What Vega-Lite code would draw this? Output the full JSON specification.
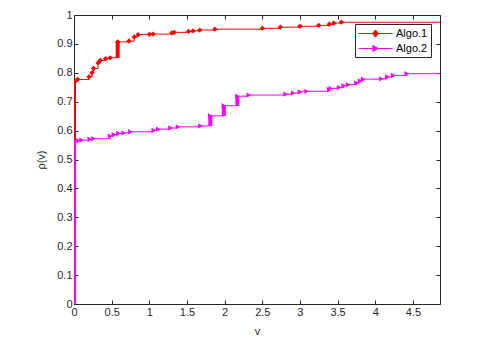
{
  "$schema": "https://vega.github.io/schema/vega-lite/v6.json",
  "width": 366,
  "height": 289,
  "autosize": {"type": "none"},
  "padding": {"left": 74, "top": 15, "right": 51, "bottom": 37},
  "background": "white",
  "config": {
    "view": {"stroke": "#262626", "strokeWidth": 1},
    "font": "Liberation Sans",
    "axis": {
      "grid": false,
      "domainColor": "#262626",
      "tickColor": "#262626",
      "labelColor": "#262626",
      "titleColor": "#262626",
      "labelFont": "Liberation Sans",
      "titleFont": "Liberation Sans",
      "labelFontSize": 11,
      "titleFontSize": 11,
      "titleFontWeight": "normal",
      "tickSize": -4,
      "labelPadding": 6,
      "labelOverlap": false,
      "labelFlush": false
    },
    "axisY": {"labelOverlap": false, "tickCount": 10},
    "legend": {
      "labelFont": "Liberation Sans",
      "labelFontSize": 11,
      "labelColor": "#000000"
    }
  },
  "datasets": {
    "profile": [
      {"algo": "Algo.1", "v": 0, "rho": 0.768},
      {"algo": "Algo.1", "v": 0.02, "rho": 0.772},
      {"algo": "Algo.1", "v": 0.05, "rho": 0.777},
      {"algo": "Algo.1", "v": 0.2, "rho": 0.786},
      {"algo": "Algo.1", "v": 0.24, "rho": 0.8},
      {"algo": "Algo.1", "v": 0.26, "rho": 0.815},
      {"algo": "Algo.1", "v": 0.32, "rho": 0.834},
      {"algo": "Algo.1", "v": 0.35, "rho": 0.843},
      {"algo": "Algo.1", "v": 0.42, "rho": 0.849},
      {"algo": "Algo.1", "v": 0.48, "rho": 0.852},
      {"algo": "Algo.1", "v": 0.58, "rho": 0.907},
      {"algo": "Algo.1", "v": 0.73, "rho": 0.91},
      {"algo": "Algo.1", "v": 0.8, "rho": 0.924},
      {"algo": "Algo.1", "v": 0.85, "rho": 0.932},
      {"algo": "Algo.1", "v": 1.0, "rho": 0.933},
      {"algo": "Algo.1", "v": 1.05, "rho": 0.934},
      {"algo": "Algo.1", "v": 1.3, "rho": 0.938},
      {"algo": "Algo.1", "v": 1.33, "rho": 0.94},
      {"algo": "Algo.1", "v": 1.52, "rho": 0.943},
      {"algo": "Algo.1", "v": 1.58, "rho": 0.945},
      {"algo": "Algo.1", "v": 1.67, "rho": 0.948},
      {"algo": "Algo.1", "v": 1.87, "rho": 0.951},
      {"algo": "Algo.1", "v": 2.5, "rho": 0.954},
      {"algo": "Algo.1", "v": 2.74, "rho": 0.958},
      {"algo": "Algo.1", "v": 3.0, "rho": 0.961},
      {"algo": "Algo.1", "v": 3.25, "rho": 0.964},
      {"algo": "Algo.1", "v": 3.39, "rho": 0.968},
      {"algo": "Algo.1", "v": 3.45, "rho": 0.972},
      {"algo": "Algo.1", "v": 3.55, "rho": 0.975},
      {"algo": "Algo.1", "v": 5.0, "rho": 0.975},
      {"algo": "Algo.2", "v": 0, "rho": 0.565},
      {"algo": "Algo.2", "v": 0.06, "rho": 0.565},
      {"algo": "Algo.2", "v": 0.1, "rho": 0.567},
      {"algo": "Algo.2", "v": 0.21, "rho": 0.57},
      {"algo": "Algo.2", "v": 0.26, "rho": 0.572},
      {"algo": "Algo.2", "v": 0.48, "rho": 0.581},
      {"algo": "Algo.2", "v": 0.53, "rho": 0.586},
      {"algo": "Algo.2", "v": 0.59, "rho": 0.59},
      {"algo": "Algo.2", "v": 0.66, "rho": 0.592},
      {"algo": "Algo.2", "v": 0.75, "rho": 0.596},
      {"algo": "Algo.2", "v": 1.06, "rho": 0.601},
      {"algo": "Algo.2", "v": 1.12, "rho": 0.605},
      {"algo": "Algo.2", "v": 1.28, "rho": 0.609},
      {"algo": "Algo.2", "v": 1.38, "rho": 0.613},
      {"algo": "Algo.2", "v": 1.68, "rho": 0.616},
      {"algo": "Algo.2", "v": 1.81, "rho": 0.651},
      {"algo": "Algo.2", "v": 1.99, "rho": 0.686},
      {"algo": "Algo.2", "v": 2.17, "rho": 0.719},
      {"algo": "Algo.2", "v": 2.32, "rho": 0.723},
      {"algo": "Algo.2", "v": 2.81, "rho": 0.726},
      {"algo": "Algo.2", "v": 2.91, "rho": 0.73},
      {"algo": "Algo.2", "v": 3.0, "rho": 0.734},
      {"algo": "Algo.2", "v": 3.09, "rho": 0.736},
      {"algo": "Algo.2", "v": 3.39, "rho": 0.742},
      {"algo": "Algo.2", "v": 3.41, "rho": 0.746},
      {"algo": "Algo.2", "v": 3.52, "rho": 0.749},
      {"algo": "Algo.2", "v": 3.58, "rho": 0.755},
      {"algo": "Algo.2", "v": 3.64, "rho": 0.759},
      {"algo": "Algo.2", "v": 3.75, "rho": 0.765},
      {"algo": "Algo.2", "v": 3.8, "rho": 0.772},
      {"algo": "Algo.2", "v": 3.84, "rho": 0.778},
      {"algo": "Algo.2", "v": 4.08, "rho": 0.779},
      {"algo": "Algo.2", "v": 4.16, "rho": 0.786},
      {"algo": "Algo.2", "v": 4.24, "rho": 0.791},
      {"algo": "Algo.2", "v": 4.42, "rho": 0.797},
      {"algo": "Algo.2", "v": 5.0, "rho": 0.797}
    ],
    "jumps": [
      {"algo": "Algo.1", "v": 0, "lo": 0, "hi": 0.768},
      {"algo": "Algo.1", "v": 0.58, "lo": 0.852, "hi": 0.907},
      {"algo": "Algo.2", "v": 0, "lo": 0, "hi": 0.565},
      {"algo": "Algo.2", "v": 1.81, "lo": 0.616, "hi": 0.651},
      {"algo": "Algo.2", "v": 1.99, "lo": 0.651, "hi": 0.686},
      {"algo": "Algo.2", "v": 2.17, "lo": 0.686, "hi": 0.719}
    ]
  },
  "resolve": {"axis": {"x": "independent", "y": "independent"}},
  "layer": [
    {
      "data": {"name": "profile"},
      "mark": {"type": "line", "interpolate": "step-after", "strokeWidth": 1, "clip": true},
      "encoding": {
        "x": {
          "field": "v", "type": "quantitative",
          "scale": {"domain": [0, 4.86], "nice": false, "zero": false},
          "axis": {"tickCount": 10, "format": "~g", "title": "v", "titlePadding": 8, "labelOverlap": false, "orient": "bottom"}
        },
        "y": {
          "field": "rho", "type": "quantitative",
          "scale": {"domain": [0, 1], "nice": false},
          "axis": {"tickCount": 10, "format": "~g", "title": "ρ(v)", "titlePadding": 10, "labelOverlap": false, "labelBound": false, "orient": "left"}
        },
        "color": {
          "field": "algo", "type": "nominal",
          "scale": {"domain": ["Algo.1", "Algo.2"], "range": ["#ff0000", "#ff00ff"]},
          "legend": {
            "title": null,
            "orient": "top-right",
            "offset": 9,
            "strokeColor": "#262626",
            "fillColor": "white",
            "padding": 3,
            "symbolSize": 144,
            "symbolStrokeWidth": 1,
            "labelOffset": 25,
            "rowPadding": 2,
            "encode": {
              "symbols": {
                "update": {
                  "shape": {"signal": "datum.value === 'Algo.1' ? 'M-1,0L4.67,0M1.83,-0.6L2.33,0L1.83,0.6L1.33,0Z' : 'M-1,0L4.67,0M1.4,-0.5L2.3,0L1.4,0.5Z'"},
                  "fill": {"signal": "datum.value === 'Algo.1' ? '#ff0000' : '#ff00ff'"},
                  "stroke": {"signal": "datum.value === 'Algo.1' ? '#ff0000' : '#ff00ff'"}
                }
              }
            }
          }
        }
      }
    },
    {
      "data": {"name": "jumps"},
      "mark": {"type": "rule", "strokeWidth": 4, "clip": true},
      "encoding": {
        "x": {"field": "v", "type": "quantitative", "axis": {"orient": "top", "tickCount": 10, "labels": false, "domain": false, "title": null}},
        "y": {"field": "lo", "type": "quantitative", "axis": {"orient": "right", "tickCount": 10, "labels": false, "domain": false, "title": null}},
        "y2": {"field": "hi"},
        "color": {"field": "algo", "type": "nominal"}
      }
    },
    {
      "data": {"name": "profile"},
      "transform": [{"filter": "datum.algo === 'Algo.1'"}],
      "mark": {"type": "point", "shape": "diamond", "filled": true, "opacity": 1, "clip": true, "size": 28},
      "encoding": {
        "x": {"field": "v", "type": "quantitative", "axis": null},
        "y": {"field": "rho", "type": "quantitative", "axis": null},
        "color": {"field": "algo", "type": "nominal"}
      }
    },
    {
      "data": {"name": "profile"},
      "transform": [{"filter": "datum.algo === 'Algo.2'"}],
      "mark": {"type": "point", "shape": "triangle-right", "filled": true, "opacity": 1, "clip": true, "size": 28},
      "encoding": {
        "x": {"field": "v", "type": "quantitative", "axis": null},
        "y": {"field": "rho", "type": "quantitative", "axis": null},
        "color": {"field": "algo", "type": "nominal"}
      }
    }
  ]
}
